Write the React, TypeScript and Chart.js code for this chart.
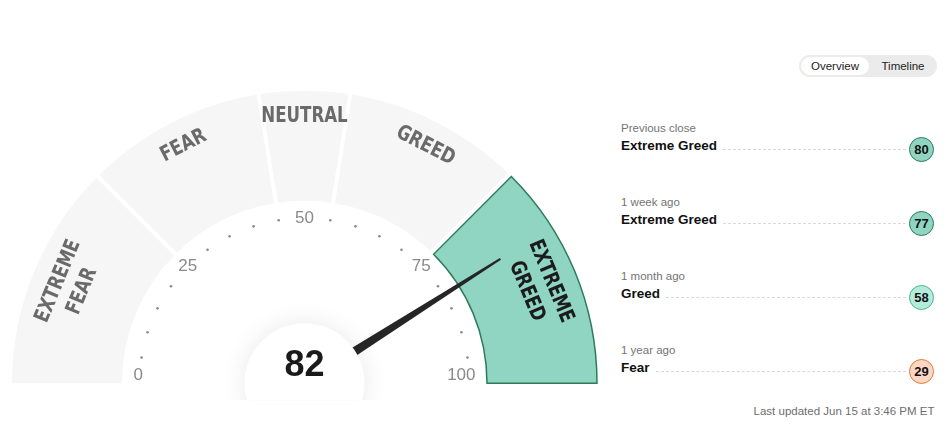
import React, { useEffect, useRef } from "react";
import { Chart, registerables } from "chart.js";

Chart.register(...registerables);

// ---------- data ----------
const zoneLabels = ["EXTREME FEAR", "FEAR", "NEUTRAL", "GREED", "EXTREME GREED"];
const zoneSizes = [25, 20, 10, 20, 25];
const activeZone = 4;
const currentValue = 82;
const tickLabels = [0, 25, 50, 75, 100];
const dotStep = 5;

const historyPeriods = ["Previous close", "1 week ago", "1 month ago", "1 year ago"];
const historyRatings = ["Extreme Greed", "Extreme Greed", "Greed", "Fear"];
const historyValues = [80, 77, 58, 29];
const lastUpdated = "Last updated Jun 15 at 3:46 PM ET";
const toggleOptions = ["Overview", "Timeline"];

// ---------- styles ----------
const GRAY_ZONE = "#f6f6f6";
const ACTIVE_FILL = "#8fd5c1";
const ACTIVE_BORDER = "#2d7c59";
const ratingStyles: Record<string, { bg: string; border: string }> = {
  "Extreme Fear": { bg: "#f7b9a6", border: "#c8502a" },
  Fear: { bg: "#fdd6c4", border: "#e07d36" },
  Neutral: { bg: "#e6e6e6", border: "#999999" },
  Greed: { bg: "#b4ebdb", border: "#45b98b" },
  "Extreme Greed": { bg: "#8fd5c1", border: "#2d7c59" },
};
const LABEL_FONT = '"Liberation Sans Narrow", "DejaVu Sans Condensed", "Roboto", sans-serif';
const UI_FONT = '"Liberation Sans", Arial, Helvetica, sans-serif';

const gaugePlugin = {
  id: "gaugeDecor",
  afterDatasetsDraw(chart: any) {
    const meta = chart.getDatasetMeta(0);
    const first: any = meta.data[0];
    if (!first) return;
    const cx = first.x;
    const cy = first.y;
    const R = first.outerRadius;
    const r = first.innerRadius;
    const ctx: CanvasRenderingContext2D = chart.ctx;
    const total = zoneSizes.reduce((a, b) => a + b, 0);
    const ang = (v: number) => Math.PI * (1 + v / total);

    ctx.save();
    // gaps between zones
    const gapW = 4;
    const borderHalf = 0.75;
    let cum = 0;
    for (let i = 0; i < zoneSizes.length - 1; i++) {
      cum += zoneSizes[i];
      const a = ang(cum);
      let side = 0;
      if (i + 1 === activeZone) side = -1;
      if (i === activeZone) side = 1;
      const off = side * (gapW / 2 + borderHalf);
      const ux = Math.cos(a), uy = Math.sin(a);
      const nx = -Math.sin(a), ny = Math.cos(a);
      ctx.beginPath();
      ctx.moveTo(cx + ux * (r - 2) + nx * off, cy + uy * (r - 2) + ny * off);
      ctx.lineTo(cx + ux * (R + 2) + nx * off, cy + uy * (R + 2) + ny * off);
      ctx.lineWidth = gapW;
      ctx.strokeStyle = "#ffffff";
      ctx.stroke();
    }

    // zone labels
    cum = 0;
    ctx.font = `bold 21px ${LABEL_FONT}`;
    ctx.textAlign = "center";
    ctx.textBaseline = "middle";
    zoneLabels.forEach((label, i) => {
      const mid = cum + zoneSizes[i] / 2;
      cum += zoneSizes[i];
      const a = ang(mid);
      const words = label.split(" ");
      const radii = words.length === 1 ? [R - 26] : [R - 26, R - 52];
      ctx.fillStyle = i === activeZone ? "#1b1b1b" : "#6a6a6a";
      words.forEach((w, k) => {
        ctx.save();
        ctx.translate(cx + Math.cos(a) * radii[k], cy + Math.sin(a) * radii[k]);
        ctx.rotate(a + Math.PI / 2);
        ctx.scale(0.88, 1);
        ctx.fillText(w, 0, 0);
        ctx.restore();
      });
    });

    // scale dots and labels
    const tickR = 165;
    ctx.font = `17px ${UI_FONT}`;
    ctx.fillStyle = "#8a8a8a";
    for (let v = 0; v <= total; v += dotStep) {
      const a = ang(v);
      if (tickLabels.includes(v)) {
        const txt = String(v);
        if (v === 0 || v === total) {
          const endR = 171;
          ctx.textAlign = v === 0 ? "left" : "right";
          ctx.textBaseline = "middle";
          ctx.fillText(txt, cx + Math.cos(a) * endR, cy - 8);
        } else {
          ctx.textAlign = "center";
          ctx.textBaseline = "middle";
          ctx.fillText(txt, cx + Math.cos(a) * tickR, cy + Math.sin(a) * tickR);
        }
      } else {
        ctx.beginPath();
        ctx.arc(cx + Math.cos(a) * tickR, cy + Math.sin(a) * tickR, 1.3, 0, Math.PI * 2);
        ctx.fill();
      }
    }

    // needle
    const na = ang(currentValue);
    const tipR = 232;
    const ux = Math.cos(na), uy = Math.sin(na);
    const nx = -Math.sin(na), ny = Math.cos(na);
    ctx.beginPath();
    ctx.moveTo(cx + nx * 5.5, cy + ny * 5.5);
    ctx.lineTo(cx + ux * tipR + nx * 1, cy + uy * tipR + ny * 1);
    ctx.lineTo(cx + ux * tipR - nx * 1, cy + uy * tipR - ny * 1);
    ctx.lineTo(cx - nx * 5.5, cy - ny * 5.5);
    ctx.closePath();
    ctx.fillStyle = "#262626";
    ctx.fill();

    // center disc (soft halo, cut a little below the baseline)
    ctx.save();
    ctx.beginPath();
    ctx.rect(cx - 120, cy - 120, 240, 137);
    ctx.clip();
    ctx.shadowColor = "rgba(0,0,0,0.09)";
    ctx.shadowBlur = 26;
    ctx.beginPath();
    ctx.arc(cx, cy, 60, 0, Math.PI * 2);
    ctx.fillStyle = "#ffffff";
    ctx.fill();
    ctx.restore();

    ctx.font = `bold 36px ${UI_FONT}`;
    ctx.fillStyle = "#1a1a1a";
    ctx.textAlign = "center";
    ctx.textBaseline = "alphabetic";
    ctx.fillText(String(currentValue), cx, cy - 7);
    ctx.restore();
  },
};

function Gauge() {
  const ref = useRef<HTMLCanvasElement | null>(null);
  useEffect(() => {
    if (!ref.current) return;
    const chart = new Chart(ref.current, {
      type: "doughnut",
      data: {
        labels: zoneLabels,
        datasets: [
          {
            data: zoneSizes,
            backgroundColor: zoneSizes.map((_, i) => (i === activeZone ? ACTIVE_FILL : GRAY_ZONE)),
            borderColor: zoneSizes.map((_, i) => (i === activeZone ? ACTIVE_BORDER : "#ffffff")),
            borderWidth: zoneSizes.map((_, i) => (i === activeZone ? 1.5 : 0)),
            borderJoinStyle: "miter",
            hoverOffset: 0,
          } as any,
        ],
      },
      options: {
        responsive: false,
        animation: false,
        events: [],
        rotation: -90,
        circumference: 180,
        radius: 292.5,
        cutout: "62.4%",
        layout: { padding: { left: 0, right: 1, top: 90, bottom: 48 } },
        plugins: { legend: { display: false }, tooltip: { enabled: false } },
      } as any,
      plugins: [gaugePlugin],
    });
    return () => chart.destroy();
  }, []);
  return (
    <canvas
      ref={ref}
      width={610}
      height={432}
      style={{ position: "absolute", left: 0, top: 0, width: 610, height: 432, display: "block" }}
    />
  );
}

function HistoryPanel() {
  return (
    <>
      <div
        style={{
          position: "absolute",
          left: 799,
          top: 55,
          width: 138,
          height: 22,
          borderRadius: 11,
          background: "#ebebeb",
          fontSize: 11.5,
          color: "#222",
        }}
      >
        <div
          style={{
            position: "absolute",
            left: 2,
            top: 2,
            width: 68,
            height: 18,
            borderRadius: 9,
            background: "#fff",
            lineHeight: "18px",
            textAlign: "center",
          }}
        >
          {toggleOptions[0]}
        </div>
        <div
          style={{
            position: "absolute",
            left: 70,
            top: 2,
            width: 68,
            height: 18,
            lineHeight: "18px",
            textAlign: "center",
          }}
        >
          {toggleOptions[1]}
        </div>
      </div>
      {historyPeriods.map((p, i) => {
        const st = ratingStyles[historyRatings[i]];
        const top = 121 + 74 * i;
        return (
          <React.Fragment key={p}>
            <div
              style={{
                position: "absolute",
                left: 621,
                top,
                lineHeight: "14px",
                fontSize: 11.5,
                color: "#747474",
                whiteSpace: "nowrap",
              }}
            >
              {p}
            </div>
            <div
              style={{
                position: "absolute",
                left: 621,
                top: top + 15.5,
                width: 313,
                height: 25,
                display: "flex",
                alignItems: "flex-start",
              }}
            >
              <span
                style={{
                  fontWeight: "bold",
                  fontSize: 13.5,
                  lineHeight: "16px",
                  marginTop: 1,
                  color: "#111",
                  whiteSpace: "nowrap",
                }}
              >
                {historyRatings[i]}
              </span>
              <div
                style={{
                  flex: 1,
                  height: 0,
                  borderTop: "1px dashed #d9d9d9",
                  marginTop: 12,
                  marginLeft: 6,
                  marginRight: 3,
                }}
              />
              <div
                style={{
                  width: 25,
                  height: 25,
                  boxSizing: "border-box",
                  borderRadius: "50%",
                  border: `1px solid ${st.border}`,
                  background: st.bg,
                  display: "flex",
                  alignItems: "center",
                  justifyContent: "center",
                  fontWeight: "bold",
                  fontSize: 13,
                  color: "#111",
                }}
              >
                {historyValues[i]}
              </div>
            </div>
          </React.Fragment>
        );
      })}
      <div
        style={{
          position: "absolute",
          right: 13.5,
          top: 404,
          lineHeight: "14px",
          fontSize: 11.5,
          color: "#6e6e6e",
          whiteSpace: "nowrap",
        }}
      >
        {lastUpdated}
      </div>
    </>
  );
}

export default function App() {
  return (
    <div
      style={{
        position: "absolute",
        left: 0,
        top: 0,
        width: 948,
        height: 432,
        overflow: "hidden",
        background: "#fff",
        fontFamily: UI_FONT,
      }}
    >
      <Gauge />
      <HistoryPanel />
    </div>
  );
}
